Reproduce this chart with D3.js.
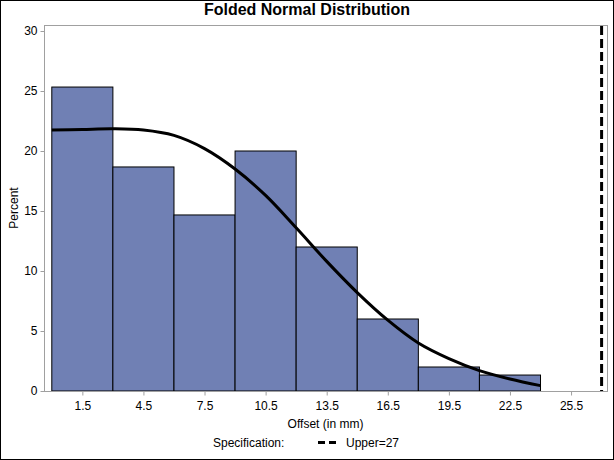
<!DOCTYPE html>
<html><head><meta charset="utf-8">
<script src="https://cdn.jsdelivr.net/npm/d3@7"></script>
<style>body{margin:0;background:#fff}svg{display:block;font-family:"Liberation Sans",Arial,sans-serif}</style>
</head><body>
<script>
const binStarts = [0, 3, 6, 9, 12, 15, 18, 21];
const binWidth = 3;
const percents = [25.33, 18.67, 14.67, 20.0, 12.0, 6.0, 2.0, 1.33];
const curveX = [0, 1.5, 3, 4.5, 6, 7.5, 9, 10.5, 12, 13.5, 15, 16.5, 18, 19.5, 21, 22.5, 24];
const curveY = [21.75, 21.8, 21.85, 21.75, 21.3, 20.2, 18.5, 16.3, 13.6, 10.8, 8.2, 5.9, 4.0, 2.7, 1.7, 1.0, 0.45];
const xTicks = [1.5, 4.5, 7.5, 10.5, 13.5, 16.5, 19.5, 22.5, 25.5];
const yTicks = [0, 5, 10, 15, 20, 25, 30];
const upperSpec = 27;

const W = 614, H = 460;
const frame = {l: 44, r: 607, t: 25, b: 391};
const svg = d3.select("body").append("svg").attr("width", W).attr("height", H);
svg.append("rect").attr("x", 0.5).attr("y", 0.5).attr("width", W - 1).attr("height", H - 1)
  .attr("fill", "#fff").attr("stroke", "#000");

const x = d3.scaleLinear().domain([0, 27]).range([51.8, 601.6]);
const y = d3.scaleLinear().domain([0, 30]).range([frame.b, 31]);

// bars
svg.append("g").selectAll("rect").data(binStarts).join("rect")
  .attr("x", d => x(d)).attr("width", d => x(d + binWidth) - x(d))
  .attr("y", (d, i) => y(percents[i])).attr("height", (d, i) => y(0) - y(percents[i]))
  .attr("fill", "#7080b4").attr("stroke", "#000").attr("stroke-width", 1);

// curve
const line = d3.line().x(d => x(d[0])).y(d => y(d[1])).curve(d3.curveCatmullRom);
svg.append("path").datum(curveX.map((v, i) => [v, curveY[i]]))
  .attr("d", line).attr("fill", "none").attr("stroke", "#000").attr("stroke-width", 3);

// spec line
svg.append("line").attr("x1", x(upperSpec)).attr("x2", x(upperSpec))
  .attr("y1", frame.t + 1).attr("y2", frame.b)
  .attr("stroke", "#000").attr("stroke-width", 3).attr("stroke-dasharray", "9,4");

// frame
svg.append("rect").attr("x", frame.l + 0.5).attr("y", frame.t + 0.5)
  .attr("width", frame.r - frame.l).attr("height", frame.b - frame.t)
  .attr("fill", "none").attr("stroke", "#a0a0a0");

// axes
const xAxis = d3.axisBottom(x).tickValues(xTicks).tickSize(4).tickPadding(6).tickFormat(d3.format(".1f"));
const gx = svg.append("g").attr("transform", `translate(0,${frame.b + 0.5})`).call(xAxis);
gx.select(".domain").remove();
const yAxis = d3.axisLeft(y).tickValues(yTicks).tickSize(4).tickPadding(3);
const gy = svg.append("g").attr("transform", `translate(${frame.l + 0.5},0)`).call(yAxis);
gy.select(".domain").remove();
[gx, gy].forEach(g => {
  g.selectAll("line").attr("stroke", "#a0a0a0");
  g.selectAll("text").attr("fill", "#000").style("font-size", "12px").style("font-family", "'Liberation Sans',Arial,sans-serif");
});

// title & labels
svg.append("text").attr("x", 307).attr("y", 15).attr("text-anchor", "middle")
  .style("font-size", "16px").style("font-weight", "bold").text("Folded Normal Distribution");
svg.append("text").attr("x", (frame.l + frame.r) / 2).attr("y", 428).attr("text-anchor", "middle")
  .style("font-size", "12px").text("Offset (in mm)");
svg.append("text").attr("transform", `translate(18,${(frame.t + frame.b) / 2}) rotate(-90)`)
  .attr("text-anchor", "middle").style("font-size", "12px").text("Percent");

// legend
const lg = svg.append("g");
lg.append("text").attr("x", 213).attr("y", 447).style("font-size", "12px").text("Specification:");
lg.append("line").attr("x1", 318).attr("x2", 340).attr("y1", 442.5).attr("y2", 442.5)
  .attr("stroke", "#000").attr("stroke-width", 3).attr("stroke-dasharray", "7,4");
lg.append("text").attr("x", 346).attr("y", 447).style("font-size", "12px").text("Upper=" + upperSpec);
</script>
</body></html>
